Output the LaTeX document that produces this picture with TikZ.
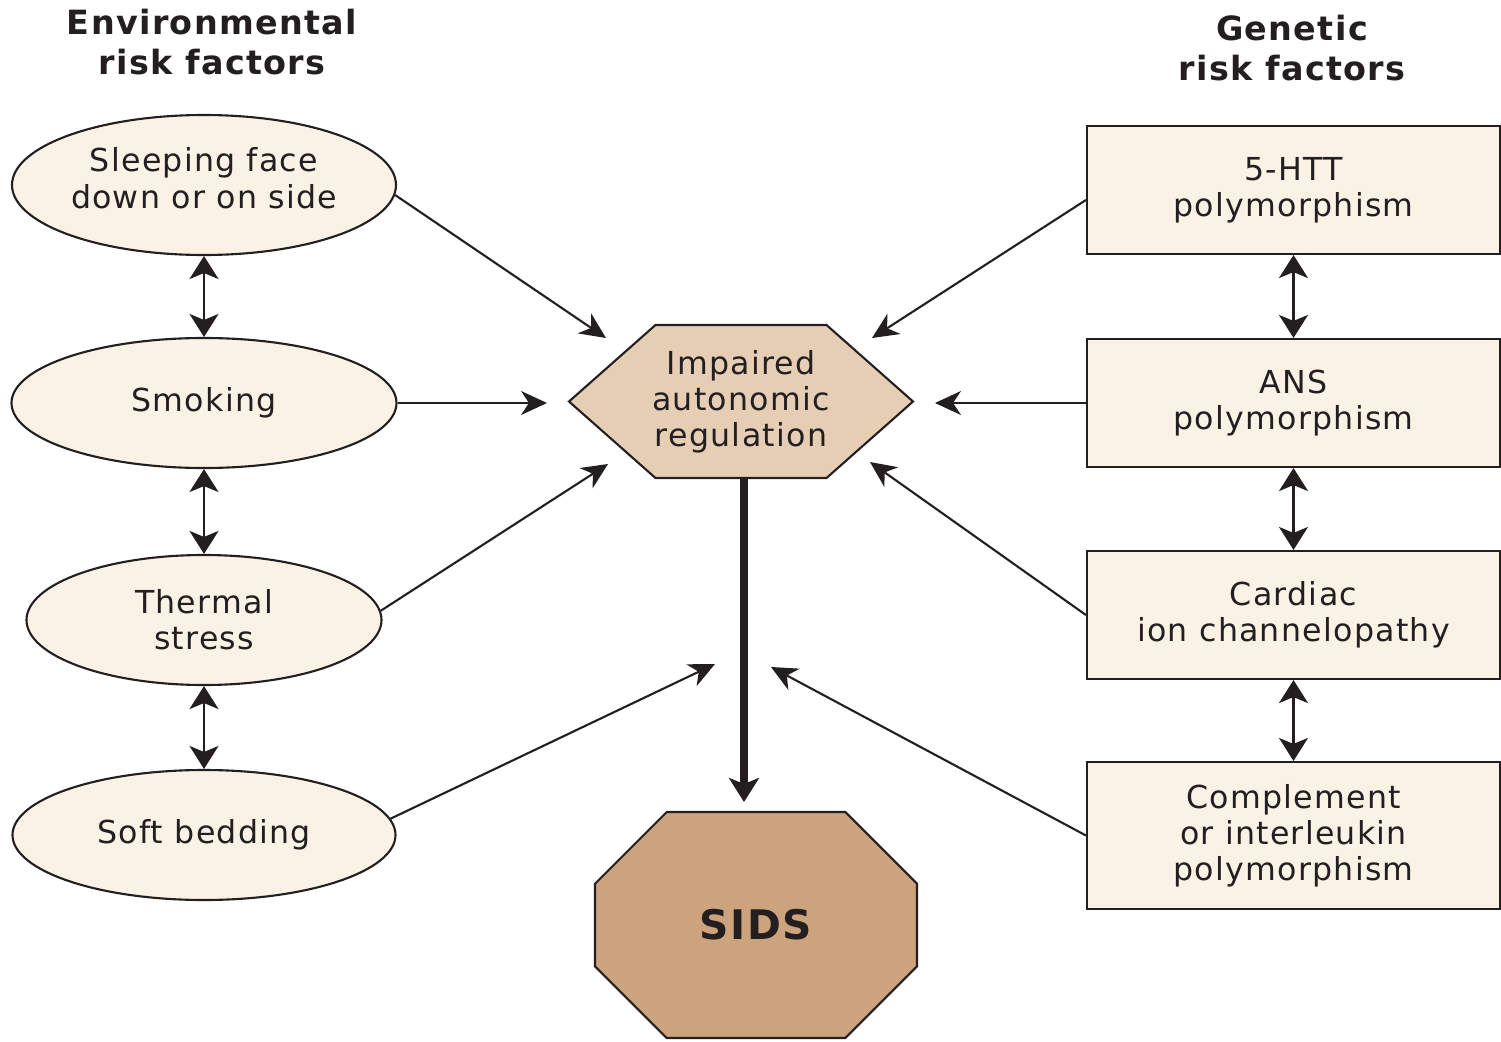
\documentclass[tikz,border=0pt]{standalone}
\usepackage{fontspec}
\setmainfont{DejaVu Sans}[LetterSpace=4]
\usetikzlibrary{shapes.geometric,shapes.symbols,shapes.misc,arrows.meta}
\definecolor{ink}{RGB}{35,31,32}
\definecolor{cream}{RGB}{249,242,229}
\definecolor{hexfill}{RGB}{230,206,181}
\definecolor{sidsfill}{RGB}{204,163,124}

\begin{document}
\begin{tikzpicture}[
    every node/.style={text=ink, align=center, font=\fontsize{9}{10.3}\selectfont},
    heading/.style={font=\bfseries\fontsize{9.5}{11.4}\selectfont},
    env/.style={ellipse, draw=ink, line width=0.6pt, fill=cream, inner sep=0pt},
    gen/.style={rectangle, draw=ink, line width=0.6pt, fill=cream, inner sep=0pt, minimum width=4.13cm},
    link/.style={draw=ink, line width=0.6pt, -{Stealth[length=0.26cm, width=0.24cm, inset=0.08cm]}},
    both/.style={draw=ink, line width=0.6pt, {Stealth[length=0.23cm, width=0.29cm, inset=0.06cm]}-{Stealth[length=0.23cm, width=0.29cm, inset=0.06cm]}}
  ]
    \useasboundingbox (0,0) rectangle (15.01,10.41);

    \node[heading] (envtitle) at (2.12, 9.99) {Environmental\\risk factors};
    \node[heading] (gentitle) at (12.92, 9.93) {Genetic\\risk factors};

    \node[env, minimum width=3.84cm, minimum height=1.40cm, text depth=0.14cm] (sleep) at (2.04, 8.56) {Sleeping face\\down or on side};
    \node[env, minimum width=3.85cm, minimum height=1.30cm] (smoke) at (2.04, 6.38) {Smoking};
    \node[env, minimum width=3.55cm, minimum height=1.30cm] (thermal) at (2.04, 4.21) {Thermal\\stress};
    \node[env, minimum width=3.83cm, minimum height=1.30cm] (bedding) at (2.04, 2.06) {Soft bedding};

    \node[gen, minimum height=1.28cm] (htt) at (12.935, 8.51) {5-HTT\\polymorphism};
    \node[gen, minimum height=1.28cm] (ans) at (12.935, 6.38) {ANS\\polymorphism};
    \node[gen, minimum height=1.28cm] (cardiac) at (12.935, 4.26) {Cardiac\\ion channelopathy};
    \node[gen, minimum height=1.47cm] (compl) at (12.935, 2.055) {Complement\\or interleukin\\polymorphism};

    \node[signal, signal to=east and west, signal pointer angle=83, draw=ink, line width=0.6pt, fill=hexfill,
          minimum width=3.44cm, minimum height=1.53cm, inner ysep=0pt, inner xsep=-0.04cm] (impair) at (7.41, 6.395) {Impaired\\autonomic\\regulation};
    \node[chamfered rectangle, chamfered rectangle xsep=0.86cm, chamfered rectangle ysep=0.65cm, draw=ink, line width=0.6pt,
          fill=sidsfill, minimum width=3.22cm, minimum height=2.26cm, inner sep=0pt,
          font=\bfseries\fontsize{11.6}{14}\selectfont] (sids) at (7.56, 1.16) {SIDS};

    % arrow ends near the centre
    \coordinate (in1) at (6.06, 7.03);
    \coordinate (in2) at (5.47, 6.38);
    \coordinate (in3) at (6.08, 5.77);
    \coordinate (in4) at (7.15, 3.77);
    \coordinate (in5) at (8.72, 7.03);
    \coordinate (in6) at (9.35, 6.38);
    \coordinate (in7) at (8.70, 5.79);
    \coordinate (in8) at (7.71, 3.74);
    \coordinate (sidsin) at (7.44, 2.39);

    \draw[both] (sleep.south) -- (smoke.north);
    \draw[both] (smoke.south) -- (thermal.north);
    \draw[both] (thermal.south) -- (bedding.north);
    \draw[both] (htt.south) -- (ans.north);
    \draw[both] (ans.south) -- (cardiac.north);
    \draw[both] (cardiac.south) -- (compl.north);

    \draw[link] (sleep.-3) -- (in1);
    \draw[link] (smoke.east) -- (in2);
    \draw[link] (thermal.3) -- (in3);
    \draw[link] (bedding.5) -- (in4);
    \draw[link] ([yshift=-0.1cm]htt.west) -- (in5);
    \draw[link] (ans.west) -- (in6);
    \draw[link] (cardiac.west) -- (in7);
    \draw[link] (compl.west) -- (in8);

    \draw[draw=ink, line width=2.1pt, -{Stealth[length=0.24cm, width=0.3cm, inset=0.06cm]}] (impair.south -| sidsin) -- (sidsin);
  \end{tikzpicture}
\end{document}
